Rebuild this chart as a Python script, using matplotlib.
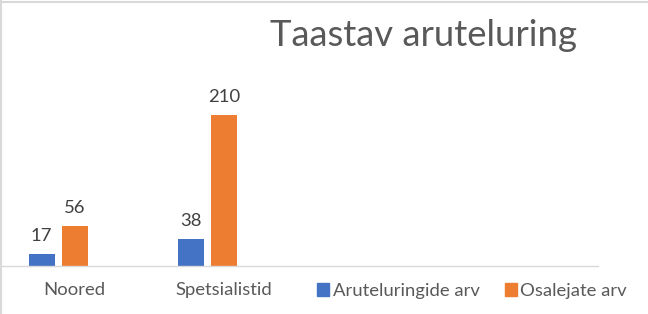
import matplotlib
matplotlib.use("Agg")
import matplotlib.pyplot as plt
from matplotlib.lines import Line2D
from matplotlib.patches import Patch

plt.rcParams["font.family"] = ["Lato", "DejaVu Sans"]

TITLE = "Taastav aruteluring"
categories = ["Noored", "Spetsialistid"]
series_names = ["Aruteluringide arv", "Osalejate arv"]
aruteluringid = [17, 38]
osalejad = [56, 210]

BLUE = "#4472C4"
ORANGE = "#ED7D31"
TEXT = "#595959"
LABEL = "#404040"
GRID = "#D9D9D9"

W, H = 648, 314
fig = plt.figure(figsize=(W / 100, H / 100), dpi=100)

# plot area in pixels: x 0..598, baseline at y=266, top at y=60
left, right, bottom, top = 0, 598, 266, 60
ax = fig.add_axes([left / W, 1 - bottom / H, (right - left) / W, (bottom - top) / H])

x = range(len(categories))
width = 0.174
offset = 0.221
blue_x = [i - offset for i in x]
orange_x = list(x)
b1 = ax.bar(blue_x, aruteluringid, width, color=BLUE)
b2 = ax.bar(orange_x, osalejad, width, color=ORANGE)

for bars, vals in ((b1, aruteluringid), (b2, osalejad)):
    for rect, v in zip(bars, vals):
        ax.annotate(
            f"{v}",
            (rect.get_x() + rect.get_width() / 2, rect.get_height()),
            textcoords="offset points",
            xytext=(0, 13),
            ha="center",
            va="center",
            fontsize=13.3,
            color=LABEL,
        )

ax.set_xlim(-0.5, 3.5)
ax.set_ylim(0, 286.5)
ax.set_xticks(list(x))
ax.set_xticklabels(categories, fontsize=13.3, color=TEXT)
ax.tick_params(axis="x", length=0, pad=11.5)
ax.set_yticks([])
for side in ("top", "right", "left"):
    ax.spines[side].set_visible(False)
ax.spines["bottom"].set_color(GRID)
ax.spines["bottom"].set_linewidth(1.0)
ax.patch.set_alpha(0)

fig.text(423 / W, 1 - 46 / H, TITLE, ha="center", va="baseline", fontsize=26.3, color=TEXT)

handles = [Patch(color=BLUE), Patch(color=ORANGE)]
fig.legend(
    handles,
    series_names,
    loc="center left",
    bbox_to_anchor=(317 / W, 1 - 291 / H),
    ncol=2,
    frameon=False,
    fontsize=13.3,
    labelcolor=TEXT,
    handlelength=0.65,
    handleheight=0.65,
    handletextpad=0.2,
    columnspacing=1.35,
    borderpad=0,
    borderaxespad=0,
)

# chart area border (partially cropped in the reference)
fig.add_artist(Line2D([0, 1], [1 - 2 / H, 1 - 2 / H], transform=fig.transFigure, color=GRID, lw=1.5))
fig.add_artist(Line2D([1 / W, 1 / W], [0, 1], transform=fig.transFigure, color=GRID, lw=1.5))

fig.savefig("out.png", dpi=100)
